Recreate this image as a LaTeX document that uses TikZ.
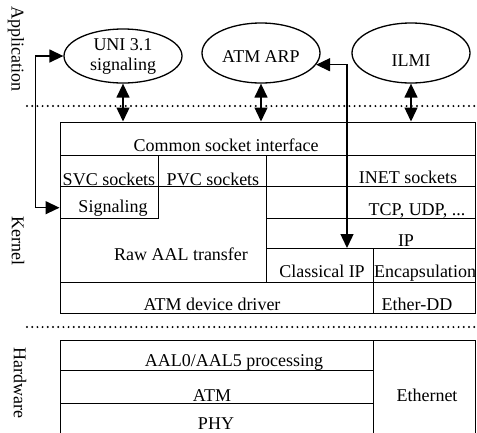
\documentclass[tikz,border=0pt]{standalone}
\usepackage{fontspec}
\setmainfont{Liberation Serif}
\usetikzlibrary{arrows.meta,shapes.geometric}
\tikzset{
	proc/.style={draw,ellipse,line width=1.3pt,minimum width=118pt,inner sep=0pt,align=center},
	lbl/.style={anchor=base,inner sep=0pt},
	side/.style={rotate=-90,inner sep=0pt},
	sepline/.style={line width=2.2pt,dash pattern=on 0pt off 5.2pt,line cap=round},
	conn/.style={<->,line width=1.4pt},
}
\begin{document}
\begin{tikzpicture}[x=1pt,y=-1pt,font=\fontsize{18}{20}\selectfont,line width=1pt,
	>={Triangle[length=14pt,width=13pt]}]
	\clip (0,0) rectangle (477,432);
	\node[side] (app) at (16,49) {Application};
	\node[side] (krn) at (18,241) {Kernel};
	\node[side] (hwl) at (20,383) {Hardware};
	\node[proc,minimum height=54pt] (uni) at (123,56) {UNI 3.1\\signaling};
	\node[proc,minimum height=60pt,text height=19pt,text depth=0pt] (arp) at (261,53) {ATM ARP};
	\node[proc,minimum height=60pt,text height=27pt,text depth=0pt] (ilmi) at (411,53) {ILMI};
	\draw[sepline] (27,106)--(477,106);
	\draw[sepline] (27,327)--(477,327);
	% kernel
	\node[draw,minimum width=415pt,minimum height=191pt,inner sep=0pt] (kernel) at (267.5,217.5) {};
	\foreach \y in {155,186,282}{
		\draw (60,\y)--(475,\y);}
	\draw (158,155)--(158,218)--(60,218);
	\draw (266,155)--(266,282);
	\draw (266,218)--(475,218) (266,248)--(475,248);
	\draw (373,248)--(373,313);
	\node[lbl] (common) at (226,151) {Common socket interface};
	\node[lbl] (svc) at (109,185) {SVC sockets};
	\node[lbl] (pvc) at (213,185) {PVC sockets};
	\node[lbl] (inet) at (408,183) {INET sockets};
	\node[lbl] (sig) at (113,212) {Signaling};
	\node[lbl] (tcp) at (417,215) {TCP, UDP, ...};
	\node[lbl] (ip) at (406,246) {IP};
	\node[lbl] (raw) at (181,260) {Raw AAL transfer};
	\node[lbl] (cip) at (322,277) {Classical IP};
	\node[lbl] (encap) at (425,277) {Encapsulation};
	\node[lbl] (drv) at (212,310) {ATM device driver};
	\node[lbl] (edd) at (417,310) {Ether-DD};
	% hardware
	\node[draw,minimum width=415pt,minimum height=110pt,inner sep=0pt] (hw) at (267.5,395) {};
	\foreach \y in {370,403}{
		\draw (60,\y)--(373,\y);}
	\draw (373,340)--(373,450);
	\node[lbl] (aal) at (234,366) {AAL0/AAL5 processing};
	\node[lbl] (atm) at (212,401) {ATM};
	\node[lbl] (phy) at (216,429) {PHY};
	\node[lbl] (eth) at (427,401) {Ethernet};
	% connectors
	\foreach \n in {uni,arp,ilmi}{
		\draw[conn] (\n.south)--(\n.south |- kernel.north);}
	\draw[conn] (uni.west)--++(-28,0) |- (kernel.west |- sig);
	\coordinate (ipin) at (347,248);
	\draw[conn] (arp.-12) -| (ipin);
\end{tikzpicture}
\end{document}
